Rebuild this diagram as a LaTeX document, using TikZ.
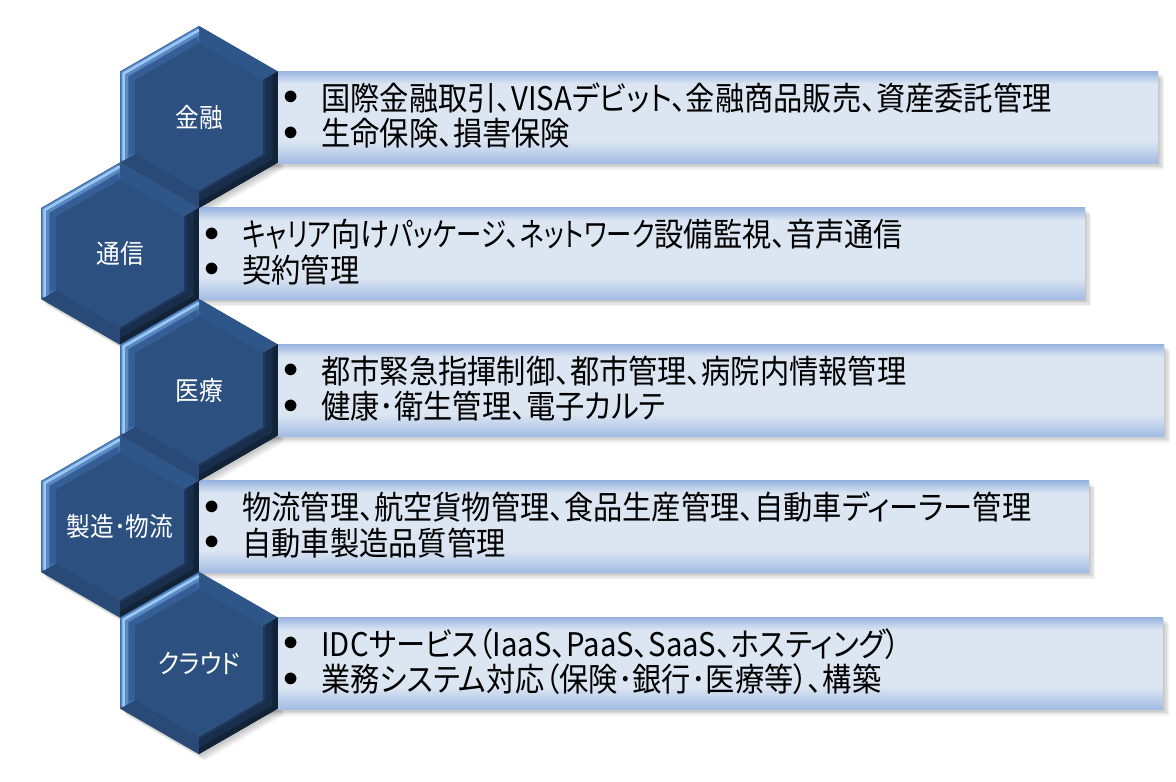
\documentclass[tikz,border=0pt]{standalone}
\usepackage{fontspec}
\setmainfont{Noto Sans CJK JP}[CharacterWidth=AlternateProportional, FakeStretch=0.9]
\newfontfamily\narrowkana{Noto Sans CJK JP}[CharacterWidth=AlternateProportional, FakeStretch=0.78]

\definecolor{hexfill}{HTML}{2C5080}
\definecolor{hexlit}{HTML}{3E6DAB}
\definecolor{hexglow}{HTML}{9CC8F5}
\definecolor{hexupper}{HTML}{2F5689}
\definecolor{hexlower}{HTML}{294A77}
\definecolor{hexshade}{HTML}{1F3859}
\definecolor{hexdeep}{HTML}{0E1A2B}
\definecolor{boxmid}{HTML}{DCE6F2}
\definecolor{boxtop}{HTML}{98B3E0}
\definecolor{boxbot}{HTML}{A3BCE3}

\pgfdeclareverticalshading{boxgrad}{100bp}{color(0bp)=(boxbot); color(25bp)=(boxbot); color(37bp)=(boxmid); color(68bp)=(boxmid); color(75bp)=(boxtop); color(100bp)=(boxtop)}

\def\hR{91}
\def\hr{74}
\newcommand{\hexring}[1]{(-90:#1) -- (-30:#1) -- (30:#1) -- (90:#1) -- (150:#1) -- (210:#1) -- cycle}

% one bevelled hexagon with its label
\newcommand{\hexcell}[4]{%
  \begin{scope}[shift={(#2,#3)}]
    \fill[hexfill] \hexring{\hR};
    \fill[hexupper] (-90:\hR) -- (-30:\hR) -- (-30:\hr) -- (-90:\hr) -- cycle;
    \fill[hexlower] (90:\hR) -- (150:\hR) -- (150:\hr) -- (90:\hr) -- cycle;
    % lit bevel, upper left
    \begin{scope}
      \clip (150:\hR) -- (210:\hR) -- (-90:\hR) -- (-90:\hr) -- (210:\hr) -- (150:\hr) -- cycle;
      \fill[hexlit] \hexring{\hR};
      \draw[hexfill, line width=7pt, opacity=.5] (150:\hr) -- (210:\hr) -- (-90:\hr);
      \draw[hexglow, line width=4pt, opacity=.3] (150:{\hR-5}) -- (210:{\hR-5}) -- (-90:{\hR-5});
      \draw[hexglow, line width=1.5pt] (150:{\hR-4}) -- (210:{\hR-4}) -- (-90:{\hR-4});
    \end{scope}
    % dark bevel, lower right
    \begin{scope}
      \clip (-30:\hR) -- (30:\hR) -- (90:\hR) -- (90:\hr) -- (30:\hr) -- (-30:\hr) -- cycle;
      \fill[hexshade] \hexring{\hR};
      \draw[hexdeep, line width=14pt, opacity=.3] \hexring{\hR};
      \draw[hexdeep, line width=6pt, opacity=.6] \hexring{\hR};
    \end{scope}
  \end{scope}
  \node[hexlabel] (#1) at (#2,#3) {#4};
}

\begin{document}
\begin{tikzpicture}[x=0.02cm, y=-0.02cm,
    hexlabel/.style={text=white, inner sep=0pt, font=\fontsize{15pt}{18pt}\selectfont},
    itemtext/.style={anchor=west, inner sep=0pt, font=\fontsize{18.5pt}{22pt}\selectfont},
    bulletmark/.style={inner sep=0pt, font=\fontsize{16pt}{18pt}\selectfont}]
  \useasboundingbox (0,0) rectangle (1176,781);
  \def\rows{199/117/1158/kinyu/金融/国際金融取引、VISAデビット、金融商品販売、資産委託管理/生命保険、損害保険,
    120/253.5/1085/tsushin/通信/{\narrowkana キャリア}向け{\narrowkana パッケージ}、{\narrowkana ネットワーク}設備監視、音声通信/契約管理,
    199/390/1164/iryo/医療/都市緊急指揮制御、都市管理、病院内情報管理/健康･衛生管理、電子カルテ,
    120/526.5/1089/seizo/製造･物流/物流管理、航空貨物管理、食品生産管理、自動車ディーラー管理/自動車製造品質管理,
    199/663/1163/cloud/クラウド/IDCサービス（IaaS、PaaS、SaaS、ホスティング）/業務システム対応（保険･銀行･医療等）、構築}

  % soft shadows
  \foreach \cx/\cy/\xe/\key/\lab/\lnA/\lnB in \rows {
    \foreach \s in {1,...,5} {
      \fill[black, opacity=.05] (\cx+\s*1.2, \cy-46+\s*1.3) rectangle (\xe+\s*1.2, \cy+46+\s*1.3);
      \fill[black, opacity=.05, shift={(\cx+\s*1.2, \cy+\s*1.3)}] \hexring{\hR};
    }
  }

  % text boxes
  \foreach \cx/\cy/\xe/\key/\lab/\lnA/\lnB in \rows {
    \shade[shading=boxgrad] (\cx,\cy-46) rectangle (\xe,\cy+46);
    \node[bulletmark] (\key-ba) at (\cx+92,\cy-19) {$\bullet$};
    \node[bulletmark] (\key-bb) at (\cx+92,\cy+16.5) {$\bullet$};
    \node[itemtext] (\key-a) at (\cx+122,\cy-19) {\lnA};
    \node[itemtext] (\key-b) at (\cx+122,\cy+16.5) {\lnB};
  }

  % hexagons
  \foreach \cx/\cy/\xe/\key/\lab/\lnA/\lnB in \rows {
    \hexcell{\key}{\cx}{\cy}{\lab}
  }
\end{tikzpicture}
\end{document}
